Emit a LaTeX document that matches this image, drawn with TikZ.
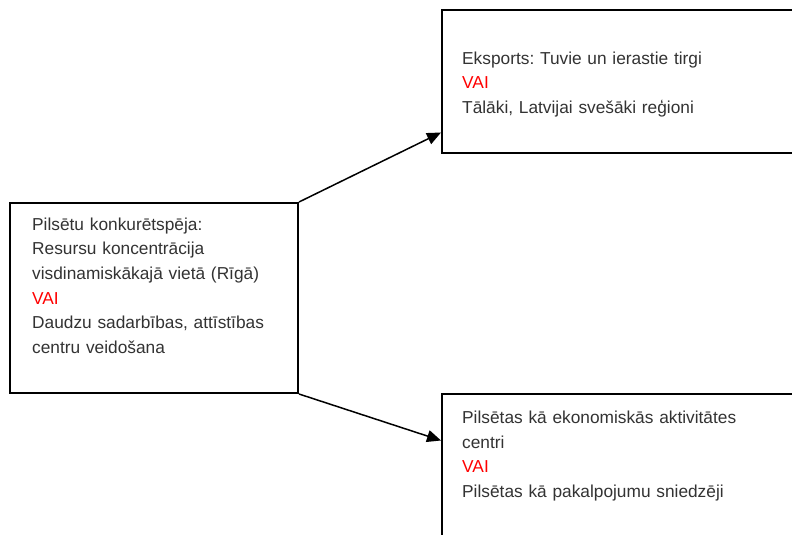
\documentclass[tikz,border=0pt]{standalone}
\usepackage{fontspec}
\setmainfont{Liberation Sans}
\usetikzlibrary{arrows.meta}
\definecolor{txtgray}{HTML}{333333}
\frenchspacing
\begin{document}
\begin{tikzpicture}[x=1pt,y=-1pt,
  boxstyle/.style={draw=black, line width=2pt, rectangle, inner sep=0pt, fill=none},
  txtstyle/.style={anchor=base west, inner sep=0pt, text width=330pt, align=left,
    text=txtgray, font=\fontsize{17.3}{24.7}\selectfont},
  arr/.style={line width=1.5pt, -{Triangle[length=14pt,width=12pt]}}]
\clip (0,0) rectangle (792,535);
\fill[white] (0,0) rectangle (792,535);
% boxes
\node[boxstyle, minimum width=288pt, minimum height=190pt] (L) at (154,298) {};
\node[boxstyle, minimum width=400pt, minimum height=143pt] (T) at (642,81.5) {};
\node[boxstyle, minimum width=400pt, minimum height=186pt] (B) at (642,487) {};
% texts
\node[txtstyle] (Ltext) at (32,230) {Pilsētu konkurētspēja:\\Resursu koncentrācija\\visdinamiskākajā vietā (Rīgā)\\\textcolor{red}{VAI}\\Daudzu sadarbības, attīstības\\centru veidošana};
\node[txtstyle] (Ttext) at (462,64) {Eksports: Tuvie un ierastie tirgi\\\textcolor{red}{VAI}\\Tālāki, Latvijai svešāki reģioni};
\node[txtstyle] (Btext) at (462,423.3) {Pilsētas kā ekonomiskās aktivitātes\\centri\\\textcolor{red}{VAI}\\Pilsētas kā pakalpojumu sniedzēji};
% connectors
\coordinate (Tin) at ([yshift=21.5pt]T.south west);
\coordinate (Bin) at ([yshift=-47.5pt]B.north west);
\draw[arr] (L.north east) -- (Tin);
\draw[arr] (L.south east) -- (Bin);
\end{tikzpicture}
\end{document}
